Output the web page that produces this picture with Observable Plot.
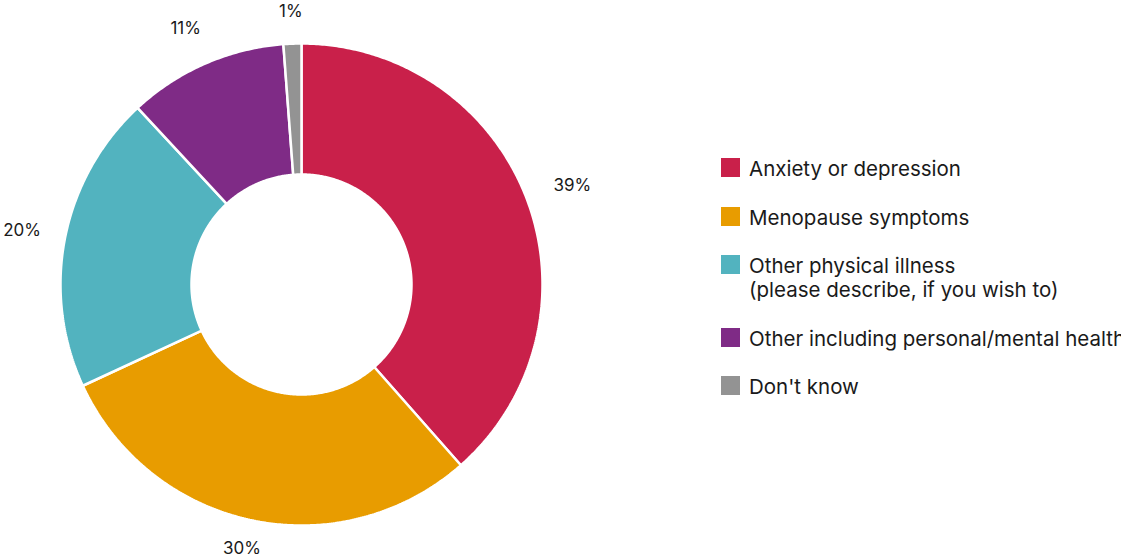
<!DOCTYPE html>
<html>
<head>
<meta charset="utf-8">
<script src="https://cdn.jsdelivr.net/npm/d3@7"></script>
<script src="https://cdn.jsdelivr.net/npm/@observablehq/plot@0.6"></script>
<style>
  html, body { margin: 0; padding: 0; background: #fff; overflow: hidden; }
  body { width: 1121px; height: 558px; position: relative; font-family: Inter, "Noto Sans", sans-serif; }
  #chart { position: absolute; left: 0; top: 0; }
  #legend { position: absolute; left: 721px; top: 157px; color: #1a1a1a; font-size: 20.5px; line-height: 24px; white-space: nowrap; }
  .item { display: flex; align-items: flex-start; margin-bottom: 24.5px; }
  .sw { width: 19px; height: 19px; margin-top: 1px; margin-right: 9px; flex: none; }
</style>
</head>
<body>
<div id="chart"></div>
<div id="legend"></div>
<script>
// Data
const categories = [
  "Anxiety or depression",
  "Menopause symptoms",
  "Other physical illness\n(please describe, if you wish to)",
  "Other including personal/mental health",
  "Don't know"
];
const values = [38.5, 29.6, 20.0, 10.7, 1.2];
const valueLabels = ["39%", "30%", "20%", "11%", "1%"];
const colors = ["#c9204a", "#e89c00", "#52b3bf", "#7f2b86", "#939393"];

// Geometry (layout)
const W = 1121, H = 558;
const cx = 301, cy = 284;
const rOuter = 241, rInner = 110;

const pie = d3.pie().sort(null).value(d => d.value)(
  categories.map((c, i) => ({ key: c, value: values[i], color: colors[i], label: valueLabels[i] }))
);

// Build closed polygon outlines for each slice (angle clockwise from 12 o'clock)
const pts = [];
for (const s of pie) {
  const a0 = s.startAngle, a1 = s.endAngle;
  const n = Math.max(2, Math.ceil((a1 - a0) / (Math.PI / 360)));
  for (let k = 0; k <= n; k++) {
    const a = a0 + (a1 - a0) * k / n;
    pts.push({ key: s.data.key, color: s.data.color, x: rOuter * Math.sin(a), y: -rOuter * Math.cos(a) });
  }
  for (let k = n; k >= 0; k--) {
    const a = a0 + (a1 - a0) * k / n;
    pts.push({ key: s.data.key, color: s.data.color, x: rInner * Math.sin(a), y: -rInner * Math.cos(a) });
  }
}

// Label positions: outside the ring, pushed by half the text box, kept inside the frame
const labelR = 271, hh = 8;
const labels = pie.map(s => {
  const a = (s.startAngle + s.endAngle) / 2;
  const sx = Math.sin(a), sy = -Math.cos(a);
  const hw = s.data.label.length * 6.2;
  let x = labelR * sx + sx * hw;
  let y = labelR * sy + sy * hh;
  x = Math.max(-cx + hw + 3, x);
  y = Math.max(-cy + 11, Math.min(H - cy - 10, y));
  return { text: s.data.label, x, y };
});

const plot = Plot.plot({
  width: W,
  height: H,
  margin: 0,
  x: { domain: [-cx, W - cx], range: [0, W], axis: null },
  y: { domain: [-cy, H - cy], range: [0, H], axis: null },
  color: { type: "identity" },
  style: { fontFamily: "Inter, 'Noto Sans', sans-serif", background: "#fff" },
  marks: [
    Plot.line(pts, {
      x: "x", y: "y", z: "key", fill: "color",
      stroke: "white", strokeWidth: 2.5, strokeLinejoin: "miter",
      curve: "linear-closed"
    }),
    Plot.text(labels, {
      x: "x", y: "y", text: "text",
      fontSize: 17, fill: "#1a1a1a", textAnchor: "middle", lineAnchor: "middle"
    })
  ]
});
document.getElementById("chart").appendChild(plot);

// Legend
const legend = document.getElementById("legend");
categories.forEach((c, i) => {
  const item = document.createElement("div");
  item.className = "item";
  const sw = document.createElement("div");
  sw.className = "sw";
  sw.style.background = colors[i];
  const tx = document.createElement("div");
  tx.innerHTML = c.split("\n").join("<br>");
  item.appendChild(sw);
  item.appendChild(tx);
  legend.appendChild(item);
});
</script>
</body>
</html>
